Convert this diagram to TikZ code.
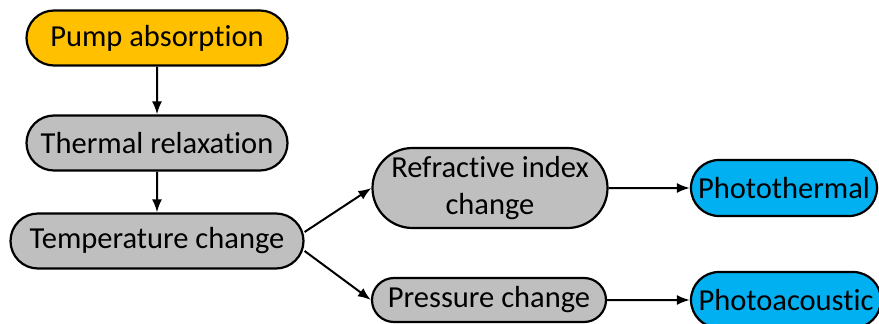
\documentclass[tikz,border=0pt]{standalone}
\usepackage{fontspec}
\setmainfont{Carlito}[Ligatures={NoCommon,NoRare}]
\usetikzlibrary{shapes.misc,arrows.meta}
\definecolor{pumpcol}{HTML}{FFC000}
\definecolor{greycol}{HTML}{BFBFBF}
\definecolor{bluecol}{HTML}{00B0F0}
\tikzset{
    stepbox/.style={rounded rectangle,draw=black,line width=2.2pt,fill=greycol,
        inner sep=0pt,font=\fontsize{30.5}{37}\selectfont,align=center},
    arr/.style={-{Latex[length=13pt,width=10pt]},line width=2pt}
}
\begin{document}
\begin{tikzpicture}[x=1pt,y=-1pt]
    \useasboundingbox (0,0) rectangle (879,324);
    \node[stepbox,fill=pumpcol,minimum width=261pt,minimum height=55pt] (pump) at (157,38) {Pump absorption};
    \node[stepbox,minimum width=261pt,minimum height=55pt] (relax) at (157,143) {Thermal relaxation};
    \node[stepbox,minimum width=293pt,minimum height=55pt] (temp) at (157,241) {Temperature change};
    \node[stepbox,minimum width=235pt,minimum height=80pt] (refr) at (490,188) {Refractive index\\change};
    \node[stepbox,minimum width=234pt,minimum height=44pt] (press) at (489,300) {Pressure change};
    \node[stepbox,fill=bluecol,minimum width=186pt,minimum height=56pt] (pt) at (784,188) {Photothermal};
    \node[stepbox,fill=bluecol,minimum width=190pt,minimum height=56pt] (pa) at (786,300) {Photoacoustic};
    % arrows
    \draw[arr] (pump) -- (relax);
    \draw[arr] (relax) -- (temp);
    \draw[arr] ([yshift=9pt]temp.east) -- (refr.west);
    \draw[arr] ([yshift=-10pt]temp.east) -- (press.west);
    \draw[arr] (refr) -- (pt);
    \draw[arr] (press) -- (pa);
\end{tikzpicture}
\end{document}
